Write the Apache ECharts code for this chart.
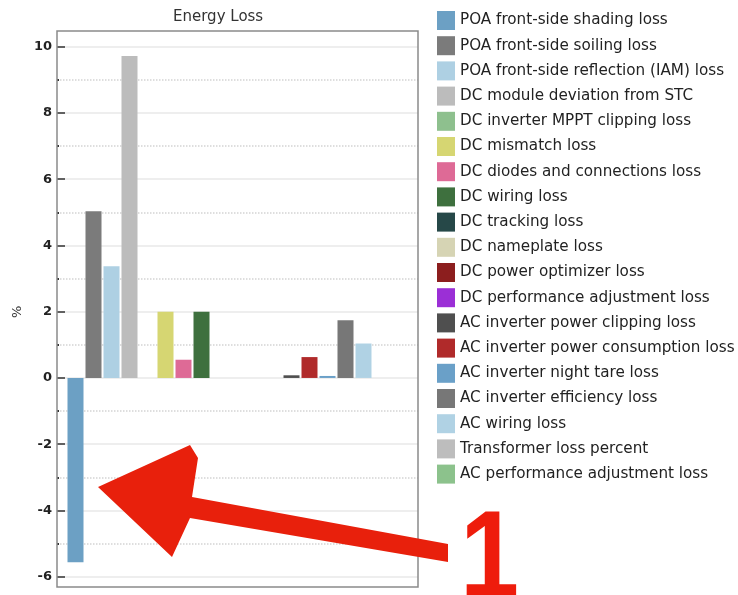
<!DOCTYPE html>
<html>
<head>
<meta charset="utf-8">
<script src="https://cdn.jsdelivr.net/npm/echarts@6/dist/echarts.min.js"></script>
<style>html,body{margin:0;padding:0;background:#fff;}#c{width:738px;height:595px;}</style>
</head>
<body>
<div id="c"></div>
<script>
const chartTitle = 'Energy Loss';
const yAxisName = '%';
const categories = [''];
const seriesNames = [
  'POA front-side shading loss',
  'POA front-side soiling loss',
  'POA front-side reflection (IAM) loss',
  'DC module deviation from STC',
  'DC inverter MPPT clipping loss',
  'DC mismatch loss',
  'DC diodes and connections loss',
  'DC wiring loss',
  'DC tracking loss',
  'DC nameplate loss',
  'DC power optimizer loss',
  'DC performance adjustment loss',
  'AC inverter power clipping loss',
  'AC inverter power consumption loss',
  'AC inverter night tare loss',
  'AC inverter efficiency loss',
  'AC wiring loss',
  'Transformer loss percent',
  'AC performance adjustment loss'
];
const seriesValues = [-5.56, 5.03, 3.37, 9.72, 0, 2.0, 0.55, 2.0, 0, 0, 0, 0, 0.08, 0.63, 0.06, 1.74, 1.04, 0, 0];
const seriesColors = ['#6ca0c4','#7b7b7b','#aed0e3','#bcbcbc','#8ec08e','#d6d672','#de6a96','#3e703e','#264848','#d6d4b4','#8c1e1e','#9b2fd6','#4f4f4f','#b02a2a','#6aa0c8','#777777','#b0d2e4','#bdbdbd','#8cc28c'];
const yMin = -6, yMax = 10, yStep = 2;

const chart = echarts.init(document.getElementById('c'), null, {renderer: 'canvas'});
const series = seriesNames.map((name, i) => ({
  name: name,
  type: 'bar',
  data: [seriesValues[i]],
  barWidth: 16,
  barGap: '12.5%',
  itemStyle: {color: seriesColors[i]},
  emphasis: {disabled: true}
}));

chart.setOption({
  animation: false,
  backgroundColor: '#fff',
  title: {
    text: chartTitle, left: 168, top: 5,
    textStyle: {fontFamily: 'DejaVu Sans', fontSize: 15, fontWeight: 'normal', color: '#333'}
  },
  legend: {
    orient: 'vertical', left: 432, top: 6,
    itemWidth: 18, itemHeight: 19, itemGap: 6.2,
    icon: 'rect',
    textStyle: {fontFamily: 'DejaVu Sans', fontSize: 15.2, lineHeight: 17, color: '#222'},
    data: seriesNames
  },
  grid: {left: 57, right: 320, top: 46.7, bottom: 18.3, containLabel: false},
  xAxis: {
    type: 'category', data: categories,
    axisLine: {show: false}, axisTick: {show: false}, axisLabel: {show: false}, splitLine: {show: false}
  },
  yAxis: {
    type: 'value', min: yMin, max: yMax, interval: yStep,
    name: yAxisName, nameLocation: 'middle', nameGap: 33, nameRotate: 90,
    nameTextStyle: {fontFamily: 'DejaVu Sans', fontSize: 13, color: '#333'},
    axisLine: {show: false},
    axisTick: {show: true, inside: true, length: 8, lineStyle: {color: '#333', width: 1.5}},
    minorTick: {show: true, splitNumber: 2, length: 2, lineStyle: {color: '#333', width: 2}},
    axisLabel: {fontFamily: 'DejaVu Sans', fontSize: 13, fontWeight: 'bold', color: '#222', margin: 5},
    splitLine: {show: true, lineStyle: {color: '#e8e8e8', width: 1.5}},
    minorSplitLine: {show: true, lineStyle: {color: '#d4d4d4', type: 'dotted', width: 1.5}}
  },
  series: series,
  graphic: [
    {type: 'rect', silent: true, z: 10,
     shape: {x: 57, y: 31, width: 361, height: 556},
     style: {fill: 'none', stroke: '#8a8a8a', lineWidth: 1.5}},
    {type: 'polygon', silent: true, z: 20,
     shape: {points: [[98,487],[190,445],[198,458],[192,497],[448,544],[448,562],[190,518],[172,557]]},
     style: {fill: '#e8200c'}},
    {type: 'text', silent: true, z: 20, left: 460, top: 500, scaleX: 0.85,
     style: {text: '1', font: 'bold 125px "Liberation Sans", Arial, sans-serif', fill: '#ee1c0c'}}
  ]
});
</script>
</body>
</html>
